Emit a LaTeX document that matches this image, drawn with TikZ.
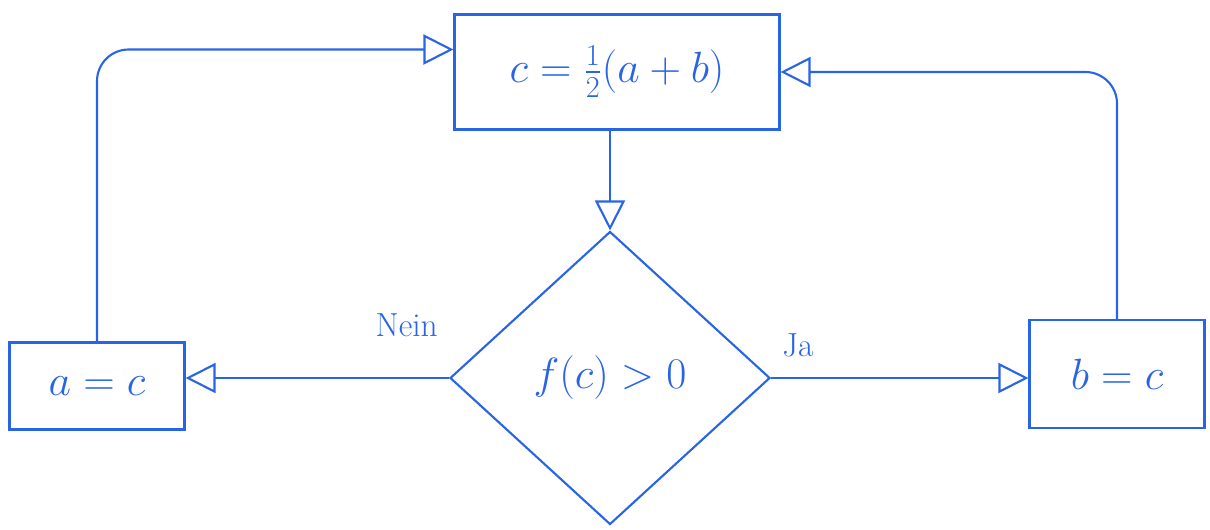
\documentclass[tikz,border=0pt]{standalone}
\usepackage{amsmath}
\usepackage{tikz}
\usetikzlibrary{arrows.meta,positioning,shapes.geometric}
\definecolor{pen}{RGB}{40,100,230}
\tikzset{%
  box/.style={draw=pen,line width=1.2pt,align=center,inner sep=4pt,text=pen},
  arrow/.style={-{Triangle[open,length=6mm,width=6mm]}, draw=pen, line width=1.2pt}%
}

\begin{document}
\begin{tikzpicture}[
    font=\fontsize{26}{30}\selectfont,
    test/.style={
        diamond,
        draw=pen,
        line width=1.2pt,
        inner sep=0pt,
        minimum width=6.4cm,
        minimum height=5.86cm,
        text=pen
    },
    answer/.style={
        text=pen,
        font=\fontsize{19}{22}\selectfont
    }
]
\useasboundingbox (0,0) rectangle (24.2,-10.6);

% Bisection step
\node[box, minimum width=6.5cm, minimum height=2.3cm] (mid) at (12.34,-1.44)
{$c=\frac{1}{2}(a+b)$};

% Sign test
\node[test] (sign) at (12.2,-7.56) {$f(c)>0$};

% Update nodes
\node[box, minimum width=3.5cm, minimum height=1.74cm] (left) at (1.94,-7.72)
{$a=c$};

\node[box, minimum width=3.5cm, minimum height=2.16cm] (right) at (22.34,-7.48)
{$b=c$};

% Arrows
\draw[arrow] (mid.south -| sign.north) -- (sign.north);
\draw[arrow] (sign.west) -- (left.east |- sign.west);
\draw[arrow] (sign.east) -- (right.west |- sign.east);
\draw[arrow, rounded corners=18pt] (left.north) |- ([yshift=0.45cm]mid.west);
\draw[arrow, rounded corners=18pt] (right.north) |- (mid.east);

% Branch labels
\node[answer, above left=0.7cm and 0.1cm of sign.west] (no) {Nein};
\node[answer, above right=0.3cm and 0.1cm of sign.east] (yes) {Ja};

\end{tikzpicture}
\end{document}
